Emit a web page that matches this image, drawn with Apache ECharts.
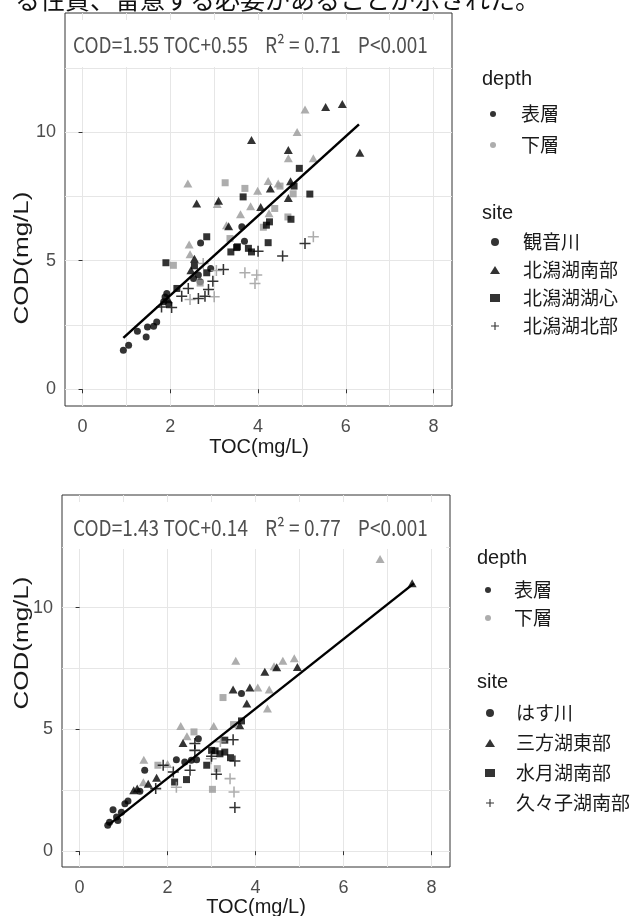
<!DOCTYPE html>
<html lang="ja">
<head>
<meta charset="UTF-8">
<title>COD-TOC</title>
<style>
  * { margin: 0; padding: 0; }
  body { background: #fff; }
  #main { width: 630px; height: 916px; }
</style>
</head>
<body>
<div id="main"></div>
<script src="https://cdn.jsdelivr.net/npm/echarts/dist/echarts.min.js"></script>
<script>
// 軸の目盛り
const xTicks = [0, 2, 4, 6, 8];
const xMinor = [1, 3, 5, 7];
const yTicks = [0, 5, 10];
const yMinor = [2.5, 7.5, 12.5];

// 凡例ラベル
const depths = ['表層', '下層'];
const kitaSites = ['観音川', '北潟湖南部', '北潟湖湖心', '北潟湖北部'];
const mikataSites = ['はす川', '三方湖東部', '水月湖南部', '久々子湖南部'];
const kitaEq = 'COD=1.55 TOC+0.55    R² = 0.71    P<0.001';
const mikataEq = 'COD=1.43 TOC+0.14    R² = 0.77    P<0.001';

// 上段 北潟湖  [TOC, COD]
const kannonSurf = [[0.93,1.52],[1.05,1.71],[1.25,2.26],[1.45,2.03],[1.48,2.42],[1.62,2.45],[1.69,2.62],[1.85,3.4],[1.88,3.59],[1.92,3.72],[1.96,3.33],[2.53,4.31],[2.64,4.44],[2.68,4.18],[2.92,4.7],[2.69,5.69],[3.63,6.32],[3.69,5.76]];
const kannonBot = [];
const nanbuSurf = [[5.54,10.98],[5.92,11.09],[3.85,9.69],[4.69,9.3],[6.32,9.2],[4.74,8.09],[4.28,7.81],[4.69,7.44],[2.6,7.22],[3.1,7.33],[4.06,7.09],[3.33,6.34],[2.55,5.08],[2.47,4.63],[1.95,3.5]];
const nanbuBot = [[5.07,10.88],[4.89,10.0],[4.69,8.98],[5.26,8.98],[2.4,8.0],[4.23,8.1],[4.46,8.0],[3.99,7.72],[3.07,7.2],[3.83,7.12],[4.25,6.84],[3.6,6.81],[3.28,6.38],[2.43,5.63],[2.45,5.25]];
const koshinSurf = [[4.94,8.59],[4.82,7.9],[3.66,7.48],[5.18,7.59],[4.75,6.61],[4.26,6.51],[4.19,6.38],[2.83,5.93],[4.23,5.7],[3.53,5.54],[3.78,5.48],[3.51,5.51],[3.38,5.34],[3.85,5.34],[1.9,4.92],[2.55,4.8],[2.83,4.53],[2.15,3.92]];
const koshinBot = [[3.25,8.03],[3.7,7.81],[4.5,7.9],[4.8,7.6],[4.38,7.03],[4.68,6.7],[4.12,6.3],[3.36,5.86],[2.07,4.82],[2.68,4.13]];
const hokubuSurf = [[5.07,5.67],[4.0,5.37],[4.56,5.18],[3.21,4.66],[2.97,4.2],[2.87,3.88],[2.79,3.62],[2.64,3.53],[2.41,3.92],[2.26,3.62],[2.03,3.18],[1.8,3.2]];
const hokubuBot = [[5.26,5.93],[2.75,4.89],[3.05,4.62],[3.7,4.53],[3.97,4.44],[3.93,4.11],[2.45,3.49],[3.0,3.6]];
const kitaFit = [[0.93,2.0],[6.3,10.3]];

// 下段 三方五湖
const hasuSurf = [[3.68,6.48],[2.7,4.62],[2.2,3.76],[2.39,3.66],[2.54,3.73],[2.66,3.76],[1.48,3.32],[1.37,2.46],[1.1,2.06],[1.03,1.95],[0.76,1.7],[0.95,1.6],[0.84,1.4],[0.68,1.19],[0.64,1.06],[0.87,1.26]];
const hasuBot = [];
const mikataSurf = [[7.56,11.0],[4.21,7.37],[4.48,7.55],[4.95,7.57],[3.49,6.64],[3.87,6.72],[3.8,6.07],[3.64,5.17],[2.35,4.44],[1.75,3.02],[1.56,2.77],[1.31,2.57],[1.23,2.5]];
const mikataBot = [[6.83,12.0],[3.55,7.82],[4.62,7.82],[4.88,7.92],[4.42,7.6],[4.05,6.72],[4.31,6.64],[4.27,5.86],[2.3,5.14],[3.05,5.14],[2.44,4.72],[2.0,3.58],[1.46,3.76],[1.45,2.83]];
const suigetsuSurf = [[3.68,5.35],[3.3,4.56],[3.0,4.14],[3.08,4.12],[3.19,4.0],[3.3,4.07],[3.43,3.84],[2.89,3.53],[2.43,2.94],[2.16,2.84]];
const suigetsuBot = [[3.26,6.31],[3.5,5.2],[2.6,4.9],[3.13,3.39],[1.78,3.53],[3.02,2.54]];
const kugushiSurf = [[2.62,4.42],[2.62,4.14],[3.49,4.58],[3.0,3.9],[3.53,3.7],[3.11,3.16],[3.53,1.79],[2.51,3.32],[2.13,3.25],[1.9,3.53],[1.73,2.57]];
const kugushiBot = [[3.42,2.98],[3.51,2.43],[2.2,2.63],[2.99,3.8],[3.2,4.5]];
const mikataFit = [[0.66,1.08],[7.6,11.0]];

const GREY = '#999999';
const GRID_COLOR = '#e6e6e6';
const PLUS = 'path://M0,4.3H10V5.7H0Z M4.3,0H5.7V10H4.3Z';
const shapes = ['circle', 'triangle', 'rect', PLUS];
const sizes = [7, [9, 8], 7, 11];

var chart = echarts.init(document.getElementById('main'));

function xAxes(g) {
  return [{
    type: 'value', gridIndex: g, min: -0.4, max: 8.42,
    axisLine: { show: false },
    axisTick: { length: 4, lineStyle: { color: '#333' }, customValues: xTicks },
    axisLabel: { customValues: xTicks, color: '#4d4d4d', fontSize: 18, fontFamily: 'Liberation Sans', margin: 12 },
    splitLine: { show: true, lineStyle: { color: GRID_COLOR, width: 1 } }
  }, {
    type: 'value', gridIndex: g, min: -0.4, max: 8.42, position: 'bottom',
    axisLine: { show: false },
    axisTick: { show: false, customValues: xMinor },
    axisLabel: { show: false, customValues: xMinor },
    splitLine: { show: true, lineStyle: { color: GRID_COLOR, width: 1 } }
  }];
}

function yAxes(g) {
  return [{
    type: 'value', gridIndex: g, min: -0.65, max: 14.63,
    axisLine: { show: false },
    axisTick: { length: 4, lineStyle: { color: '#333' }, customValues: yTicks },
    axisLabel: { customValues: yTicks, color: '#4d4d4d', fontSize: 18, fontFamily: 'Liberation Sans', margin: 9 },
    splitLine: { show: true, lineStyle: { color: GRID_COLOR, width: 1 } }
  }, {
    type: 'value', gridIndex: g, min: -0.65, max: 14.63, position: 'left',
    axisLine: { show: false },
    axisTick: { show: false, customValues: yMinor },
    axisLabel: { show: false, customValues: yMinor },
    splitLine: { show: true, lineStyle: { color: GRID_COLOR, width: 1 } }
  }];
}

function siteSeries(name, g, i, surf, bot) {
  return {
    name: name, type: 'scatter',
    xAxisIndex: g * 2, yAxisIndex: g * 2,
    symbol: shapes[i], symbolSize: sizes[i], symbolKeepAspect: true,
    itemStyle: { color: '#000' },
    z: 3,
    data: bot.map(p => ({ value: p, itemStyle: { color: GREY } }))
      .concat(surf.map(p => ({ value: p })))
  };
}

function fitSeries(g, pts) {
  return {
    type: 'line', xAxisIndex: g * 2, yAxisIndex: g * 2,
    data: pts, symbol: 'none', z: 4,
    lineStyle: { color: '#000', width: 2.5 }
  };
}

var series = [
  siteSeries(kitaSites[0], 0, 0, kannonSurf, kannonBot),
  siteSeries(kitaSites[1], 0, 1, nanbuSurf, nanbuBot),
  siteSeries(kitaSites[2], 0, 2, koshinSurf, koshinBot),
  siteSeries(kitaSites[3], 0, 3, hokubuSurf, hokubuBot),
  fitSeries(0, kitaFit),
  siteSeries(mikataSites[0], 1, 0, hasuSurf, hasuBot),
  siteSeries(mikataSites[1], 1, 1, mikataSurf, mikataBot),
  siteSeries(mikataSites[2], 1, 2, suigetsuSurf, suigetsuBot),
  siteSeries(mikataSites[3], 1, 3, kugushiSurf, kugushiBot),
  fitSeries(1, mikataFit),
  // depth 凡例用（データなし）
  { name: depths[0], type: 'scatter', symbol: 'circle', itemStyle: { color: '#000' }, data: [] },
  { name: depths[1], type: 'scatter', symbol: 'circle', itemStyle: { color: GREY }, data: [] }
];

function legendBox(names, top, gap, iconH, left, padLeft) {
  return {
    orient: 'vertical', left: left, top: top, padding: 0,
    itemGap: gap, itemWidth: 10, itemHeight: iconH,
    symbolKeepAspect: true,
    selectedMode: false, data: names,
    textStyle: { color: '#1a1a1a', fontSize: 19, lineHeight: 20, fontFamily: 'Noto Sans CJK JP', padding: [0, 0, 0, padLeft] }
  };
}

function txt(text, x, y, font, fill, extra) {
  return Object.assign({
    type: 'text', x: x, y: y, z: 2,
    style: { text: text, font: font, fill: fill, align: 'left', verticalAlign: 'middle' }
  }, extra || {});
}

var titleFont = '20px "Liberation Sans"';
var eqFont = '19px "Noto Sans CJK JP"';

function centered(text, x, y, extra) {
  return Object.assign({
    type: 'text', x: x, y: y, z: 2,
    style: { text: text, font: titleFont, fill: '#1a1a1a', align: 'center', verticalAlign: 'middle' }
  }, extra || {});
}

var option = {
  animation: false,
  backgroundColor: '#fff',
  grid: [
    { left: 65, top: 13, width: 387, height: 393, show: true, borderColor: '#333', borderWidth: 1, backgroundColor: '#fff' },
    { left: 62, top: 495, width: 388, height: 372, show: true, borderColor: '#333', borderWidth: 1, backgroundColor: '#fff' }
  ],
  xAxis: xAxes(0).concat(xAxes(1)),
  yAxis: yAxes(0).concat(yAxes(1)),
  legend: [
    legendBox(depths, 104, 11, 6, 490, 18),
    legendBox(kitaSites, 232, 8, 8, 490, 18),
    legendBox(depths, 580, 8, 6, 485, 16),
    legendBox(mikataSites, 703, 10, 8, 485, 16)
  ],
  graphic: [
    txt('る性質、留意する必要があることが示された。', 15, -1, '25px "Noto Sans CJK JP"', '#111'),
    { type: 'rect', z: 1, shape: { x: 67, y: 20, width: 381, height: 47 }, style: { fill: '#fff' } },
    { type: 'rect', z: 1, shape: { x: 64, y: 502, width: 382, height: 47 }, style: { fill: '#fff' } },
    txt(kitaEq, 73, 45, eqFont, '#505050', { scaleY: 1.15 }),
    txt(mikataEq, 73, 528, eqFont, '#505050', { scaleY: 1.15 }),
    centered('COD(mg/L)', 22, 258, { rotation: Math.PI / 2, scaleX: 1.3 }),
    centered('COD(mg/L)', 22, 643, { rotation: Math.PI / 2, scaleX: 1.3 }),
    centered('TOC(mg/L)', 259, 447),
    centered('TOC(mg/L)', 256, 907),
    txt('depth', 482, 79, titleFont, '#1a1a1a'),
    txt('site', 482, 213, titleFont, '#1a1a1a'),
    txt('depth', 477, 558, titleFont, '#1a1a1a'),
    txt('site', 477, 682, titleFont, '#1a1a1a')
  ],
  series: series
};

chart.setOption(option);
</script>
</body>
</html>
